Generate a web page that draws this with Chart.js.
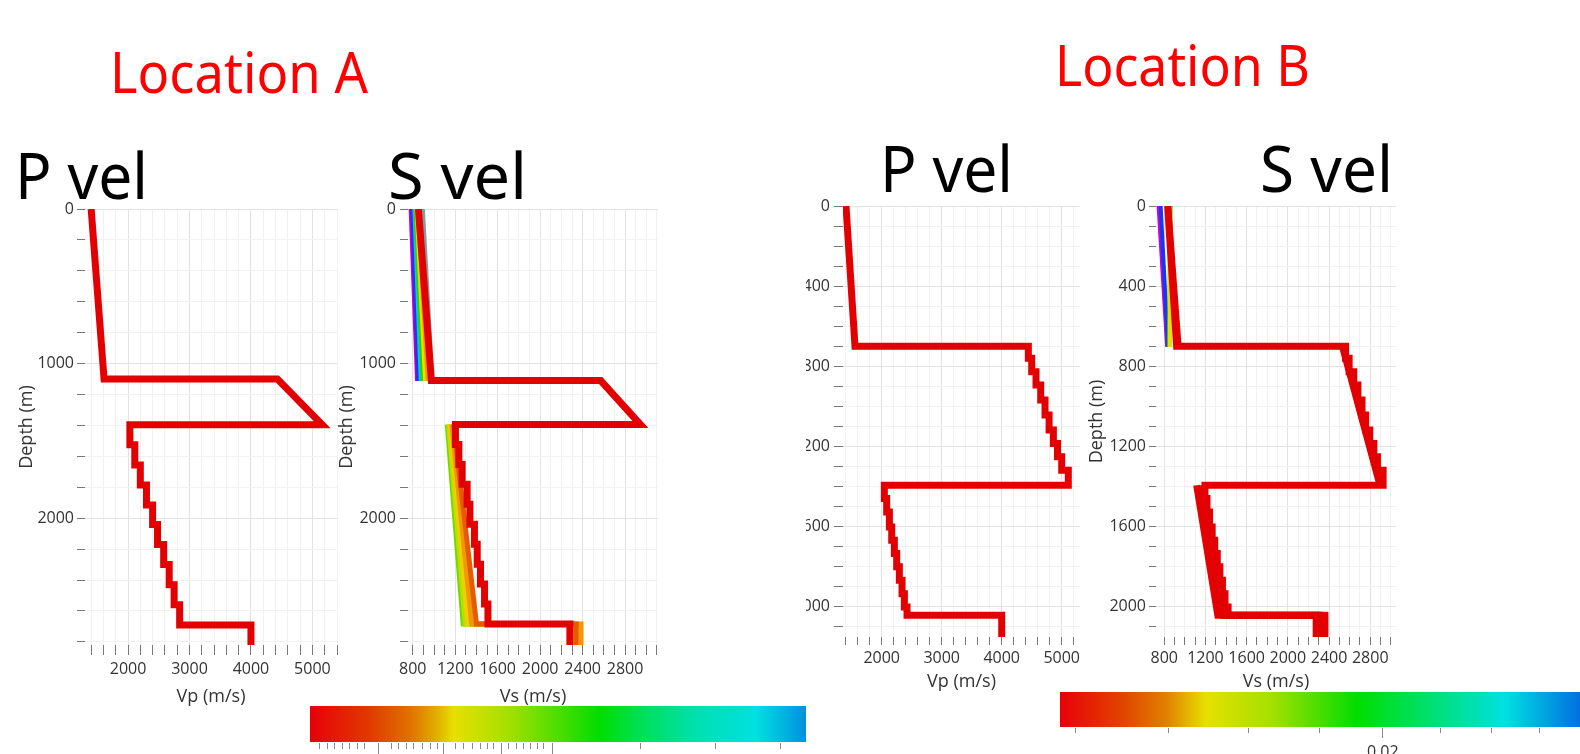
<!DOCTYPE html>
<html>
<head>
<meta charset="utf-8">
<script src="https://cdn.jsdelivr.net/npm/chart.js@4.4.1/dist/chart.umd.min.js"></script>
<style>
  body { margin: 0; background: #fff; width: 1580px; height: 754px; overflow: hidden; position: relative; font-family: 'Noto Sans', sans-serif; }
  canvas { position: absolute; }
  .t { position: absolute; white-space: nowrap; line-height: 1; transform-origin: 0 0; }
  .cb { position: absolute; }
  .tk { position: absolute; width: 1px; background: #888; }
</style>
</head>
<body>
<script>
// ---- Location A : P velocity (m/s) against depth (m)
const depthA_p = [0, 1100, 1100, 1395, 1395, 1525, 1525, 1655, 1655, 1785, 1785, 1915, 1915, 2040, 2040, 2170, 2170, 2300, 2300, 2430, 2430, 2560, 2560, 2690, 2690, 2820];
const vpA = [1400, 1610, 4430, 5160, 2030, 2030, 2110, 2110, 2200, 2200, 2300, 2300, 2400, 2400, 2480, 2480, 2580, 2580, 2670, 2670, 2750, 2750, 2840, 2840, 4000, 4000];

// ---- Location A : S velocity, main (red) profile
const depthA_s = [0, 1110, 1110, 1394, 1394, 1523, 1523, 1652, 1652, 1781, 1781, 1910, 1910, 2039, 2039, 2168, 2168, 2297, 2297, 2426, 2426, 2555, 2555, 2684, 2684, 2820];
const vsA = [853, 975, 2570, 2945, 1202, 1202, 1234, 1234, 1265, 1265, 1312, 1312, 1338, 1338, 1381, 1381, 1407, 1407, 1438, 1438, 1476, 1476, 1508, 1508, 2280, 2280];
// other S profiles, shallow part
const depthA_sUp = [0, 1112];
const vsA_magenta = [780, 840];
const vsA_purple = [792, 848];
const vsA_blue = [802, 856];
const vsA_cyan = [815, 875];
const vsA_green = [826, 894];
const vsA_yellow = [836, 916];
const vsA_orange = [845, 940];
const vsA_teal = [895, 985];
// other S profiles, deep part
const depthA_sLow = [1394, 2684, 2684, 2820];
const vsA_lowGreen = [1125, 1275, 2290, 2290];
const vsA_lowLime = [1138, 1295, 2295, 2295];
const vsA_lowYellow = [1152, 1320, 2300, 2300];
const vsA_lowOrange = [1168, 1355, 2385, 2385];
const vsA_lowDark = [1185, 1400, 2340, 2340];

// ---- Location B : P velocity
const depthB_p = [0, 700, 700, 760, 760, 827, 827, 893, 893, 968, 968, 1043, 1043, 1118, 1118, 1185, 1185, 1251, 1251, 1318, 1318, 1393, 1393, 1459, 1459, 1526, 1526, 1601, 1601, 1667, 1667, 1734, 1734, 1800, 1800, 1867, 1867, 1934, 1934, 2000, 2000, 2042, 2042, 2150];
const vpB = [1405, 1555, 4444, 4444, 4500, 4500, 4572, 4572, 4650, 4650, 4722, 4722, 4790, 4790, 4861, 4861, 4930, 4930, 5000, 5000, 5110, 5110, 2044, 2044, 2083, 2083, 2128, 2128, 2167, 2167, 2211, 2211, 2250, 2250, 2294, 2294, 2339, 2339, 2378, 2378, 2422, 2422, 4000, 4000];

// ---- Location B : S velocity, main (red) profile
const depthB_s = [0, 700, 700, 760, 760, 827, 827, 893, 893, 968, 968, 1043, 1043, 1118, 1118, 1185, 1185, 1251, 1251, 1318, 1318, 1393, 1393, 1459, 1459, 1526, 1526, 1601, 1601, 1667, 1667, 1734, 1734, 1800, 1800, 1867, 1867, 1934, 1934, 2000, 2000, 2042, 2042, 2150];
const vsB = [833, 920, 2560, 2560, 2595, 2595, 2640, 2640, 2680, 2680, 2720, 2720, 2755, 2755, 2795, 2795, 2835, 2835, 2870, 2870, 2925, 2925, 1195, 1195, 1215, 1215, 1240, 1240, 1265, 1265, 1290, 1290, 1315, 1315, 1340, 1340, 1365, 1365, 1390, 1390, 1420, 1420, 2300, 2300];
// other S profiles
const depthB_sUp = [0, 703];
const vsB_red2 = [838, 940];
const vsB_magenta = [745, 828];
const vsB_blue = [765, 836];
const vsB_yellow = [850, 856];
const vsB_green = [862, 845];
const depthB_sMid = [700, 1393];
const vsB_midRed = [2530, 2895];
const depthB_sLow = [1393, 2042, 2042, 2150];
const vsB_low1 = [1115, 1320, 2275, 2275];
const vsB_low2 = [1160, 1375, 2360, 2360];

// ---- colour bars
const cbStopsA = [[0, '#e8000a'], [0.12, '#e03a00'], [0.2, '#e07000'], [0.25, '#e0a800'], [0.29, '#e6e000'], [0.4, '#a4e000'], [0.585, '#00dd00'], [0.66, '#00e050'], [0.78, '#00e0b0'], [0.9, '#00e0e0'], [1, '#0090e0']];
const cbStopsB = [[0, '#e8000a'], [0.12, '#e04500'], [0.2, '#e08000'], [0.275, '#e6e000'], [0.4, '#a4e000'], [0.56, '#00dd00'], [0.66, '#00e050'], [0.84, '#00e0e0'], [1, '#0060e0']];
const cbTicksA = [319, 327, 334, 342, 349, 357, 364, 378, 391, 398, 406, 413, 422, 430, 437, 443, 455, 463, 472, 480, 487, 493, 501, 508, 516, 523, 530, 537, 543, 552, 640, 715, 780];
const cbLongA = [378, 443, 501, 552];
const cbTicksB = [1075, 1168, 1248, 1319, 1382, 1440, 1491, 1539];
const cbLongB = [1382];

const RED = '#e30000';
Chart.defaults.font.family = "'Open Sans', sans-serif";
Chart.defaults.color = '#333';

const pts = (xs, ys) => xs.map((x, i) => ({ x: x, y: ys[i] }));
const line = (xs, ys, color, width) => ({ data: pts(xs, ys), showLine: true, borderColor: color, borderWidth: width, pointRadius: 0, borderJoinStyle: 'miter', tension: 0 });

// tick values every `step` inside [min, max]
function tickRange(min, max, step) {
  const t = [];
  for (let v = Math.ceil(min / step) * step; v <= max; v += step) t.push({ value: v });
  return t;
}

function gridColor(major) {
  return ctx => (ctx.tick && ctx.tick.value % major === 0) ? '#e2e2e2' : '#f1f1f1';
}

function profileChart(p) {
  const c = document.createElement('canvas');
  c.width = p.w; c.height = p.h;
  c.style.left = p.left + 'px';
  c.style.top = p.top + 'px';
  document.body.appendChild(c);
  return new Chart(c, {
    type: 'scatter',
    data: { datasets: p.sets },
    options: {
      responsive: false,
      animation: false,
      events: [],
      layout: { padding: { top: 14, right: 6, left: 0, bottom: 0 } },
      plugins: { legend: { display: false }, tooltip: { enabled: false } },
      scales: {
        x: {
          type: 'linear', position: 'bottom', min: p.xMin, max: p.xMax,
          afterBuildTicks: s => { s.ticks = tickRange(p.xMin, p.xMax, p.xStep); },
          afterFit: s => { s.height = p.xH; },
          ticks: { autoSkip: false, maxRotation: 0, minRotation: 0, padding: p.xPad,
                   font: { size: 16 }, color: '#333', callback: v => v % p.xLab === 0 ? String(v) : '' },
          grid: { color: gridColor(p.xLab), tickColor: '#777', tickLength: p.xTL },
          border: { display: false },
          title: { display: true, text: p.xTitle, font: { size: 18 }, color: '#333' }
        },
        y: {
          type: 'linear', position: 'left', reverse: true, min: 0, max: p.yMax,
          afterBuildTicks: s => { s.ticks = tickRange(0, p.yMax, p.yStep); },
          afterFit: s => { s.width = p.yW; },
          ticks: { autoSkip: false, padding: p.yPad,
                   font: { size: 16 }, color: '#333', callback: v => v % p.yLab === 0 ? String(v) : '' },
          grid: { color: gridColor(p.yLab), tickColor: '#777', tickLength: p.yTL },
          border: { display: false },
          title: { display: p.yTitle, text: 'Depth (m)', font: { size: 18 }, color: '#333' }
        }
      }
    }
  });
}

// Location A, P vel
profileChart({ left: 12, top: 195, w: 331, h: 517, yW: 73, xH: 67,
  xMin: 1300, xMax: 5400, xStep: 200, xLab: 1000, xTL: 10, xPad: 5, xTitle: 'Vp (m/s)',
  yMax: 2820, yStep: 200, yLab: 1000, yTL: 8, yPad: 3, yTitle: true,
  sets: [line(vpA, depthA_p, RED, 7)] });

// Location A, S vel
profileChart({ left: 332, top: 195, w: 332, h: 517, yW: 76, xH: 67,
  xMin: 755, xMax: 3110, xStep: 100, xLab: 400, xTL: 10, xPad: 5, xTitle: 'Vs (m/s)',
  yMax: 2820, yStep: 200, yLab: 1000, yTL: 8, yPad: 4, yTitle: true,
  sets: [
    line(vsA, depthA_s, RED, 7),
    line(vsA_lowDark, depthA_sLow, '#e85a00', 5),
    line(vsA_lowOrange, depthA_sLow, '#f09a00', 5),
    line(vsA_lowYellow, depthA_sLow, '#ecd200', 5),
    line(vsA_lowLime, depthA_sLow, '#b8e000', 5),
    line(vsA_lowGreen, depthA_sLow, '#70d800', 5),
    line(vsA_orange, depthA_sUp, '#f0a000', 4),
    line(vsA_yellow, depthA_sUp, '#e8e000', 4),
    line(vsA_green, depthA_sUp, '#30d000', 4),
    line(vsA_cyan, depthA_sUp, '#00c8e8', 4),
    line(vsA_blue, depthA_sUp, '#1838f0', 4),
    line(vsA_purple, depthA_sUp, '#7a10d0', 4),
    line(vsA_magenta, depthA_sUp, '#d000d0', 4),
    line(vsA_teal, depthA_sUp, '#7f9f9f', 4)
  ] });

// Location B, P vel (left labels cut by the frame)
profileChart({ left: 806, top: 192, w: 280, h: 505, yW: 37, xH: 60,
  xMin: 1355, xMax: 5305, xStep: 200, xLab: 1000, xTL: 8, xPad: 4, xTitle: 'Vp (m/s)',
  yMax: 2150, yStep: 100, yLab: 400, yTL: 9, yPad: 4, yTitle: false,
  sets: [line(vpB, depthB_p, RED, 7)] });

// Location B, S vel
profileChart({ left: 1082, top: 192, w: 320, h: 505, yW: 74, xH: 60,
  xMin: 720, xMax: 3050, xStep: 100, xLab: 400, xTL: 8, xPad: 4, xTitle: 'Vs (m/s)',
  yMax: 2150, yStep: 100, yLab: 400, yTL: 7, yPad: 3, yTitle: true,
  sets: [
    line(vsB, depthB_s, RED, 7),
    line(vsB_red2, depthB_sUp, RED, 6),
    line(vsB_midRed, depthB_sMid, RED, 7),
    line(vsB_low1, depthB_sLow, RED, 7),
    line(vsB_low2, depthB_sLow, RED, 7),
    line(vsB_yellow, depthB_sUp, '#e8e000', 4),
    line(vsB_green, depthB_sUp, '#30d000', 4),
    line(vsB_blue, depthB_sUp, '#1838f0', 4),
    line(vsB_magenta, depthB_sUp, '#d000d0', 4)
  ] });

// colour bars
function colorBar(left, top, width, height, stops, ticks, longTicks, tickLen) {
  const d = document.createElement('div');
  d.className = 'cb';
  d.style.left = left + 'px'; d.style.top = top + 'px';
  d.style.width = width + 'px'; d.style.height = height + 'px';
  d.style.background = 'linear-gradient(to right,' + stops.map(s => s[1] + ' ' + (s[0] * 100) + '%').join(',') + ')';
  document.body.appendChild(d);
  ticks.forEach(x => {
    const t = document.createElement('div');
    t.className = 'tk';
    t.style.left = x + 'px';
    t.style.top = (top + height + 1) + 'px';
    t.style.height = (longTicks.includes(x) ? tickLen * 2 : tickLen) + 'px';
    document.body.appendChild(t);
  });
}
colorBar(310, 706, 496, 36, cbStopsA, cbTicksA, cbLongA, 6);
colorBar(1060, 692, 530, 35, cbStopsB, cbTicksB, cbLongB, 5);
const lab = document.createElement('div');
lab.className = 't';
lab.style.font = "16px 'Open Sans', sans-serif";
lab.style.color = '#333';
lab.style.left = '1367px'; lab.style.top = '740px';
lab.textContent = '0.02';
document.body.appendChild(lab);

// big titles
function title(text, left, right, capTop, baseline, color) {
  const el = document.createElement('div');
  el.className = 't';
  el.textContent = text;
  const size = (baseline - capTop) / 0.714;
  el.style.fontSize = size + 'px';
  el.style.color = color;
  document.body.appendChild(el);
  const w = el.getBoundingClientRect().width;
  el.style.left = left + 'px';
  el.style.top = (baseline - 0.888 * size) + 'px';
  el.style.transform = 'scaleX(' + ((right - left) / w) + ')';
}
title('Location A', 110, 368, 53, 93, '#ff0000');
title('Location B', 1055, 1310, 46, 86, '#ff0000');
title('P vel', 15, 148, 153, 199, '#000');
title('S vel', 388, 527, 153, 199, '#000');
title('P vel', 880, 1013, 147, 192, '#000');
title('S vel', 1260, 1393, 147, 192, '#000');
</script>
</body>
</html>
